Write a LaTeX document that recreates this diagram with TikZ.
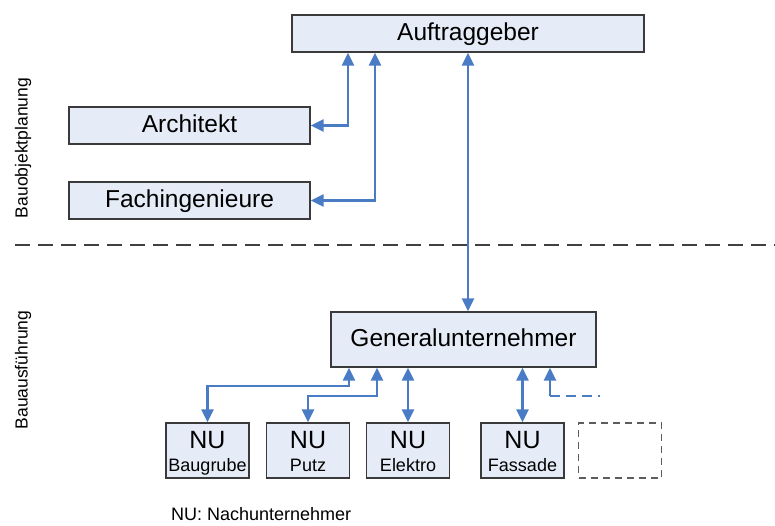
\documentclass[tikz,border=0pt]{standalone}
\usepackage{fontspec}
\setmainfont{Liberation Sans}
\usetikzlibrary{arrows.meta}
\definecolor{boxfill}{HTML}{E6ECF7}
\definecolor{boxline}{HTML}{3A3A3A}
\definecolor{linkblue}{HTML}{4A7CC6}
\definecolor{sepgray}{HTML}{404040}

\begin{document}
\begin{tikzpicture}[x=1pt,y=-1pt,
  box/.style={draw=boxline, fill=boxfill, line width=1.4pt, inner sep=0pt,
    font=\fontsize{24.5}{29}\selectfont, text height=18.5pt, text depth=5.5pt},
  nubox/.style={draw=boxline, fill=boxfill, line width=1.4pt, inner sep=0pt,
    minimum width=83pt, minimum height=55pt},
  nutitle/.style={anchor=base, inner sep=0pt, font=\fontsize{25}{29}\selectfont},
  nusub/.style={anchor=base, inner sep=0pt, font=\fontsize{18}{21}\selectfont},
  biline/.style={draw=linkblue, line width=2.8pt, {Triangle[length=13pt,width=12pt]}-{Triangle[length=13pt,width=12pt]}},
  upline/.style={draw=linkblue, line width=2.8pt, -{Triangle[length=13pt,width=12pt]}},
  phase/.style={rotate=90, inner sep=0pt, font=\fontsize{17.5}{21}\selectfont},
]
\useasboundingbox (0,0) rectangle (775,525);

% planning side
\node[box, minimum width=352pt, minimum height=37pt] (auf) at (468,33.5) {Auftraggeber};
\node[box, minimum width=241pt, minimum height=37pt] (arch) at (189.5,125.5) {Architekt};
\node[box, minimum width=241pt, minimum height=37pt] (fach) at (189.5,200.5) {Fachingenieure};

% execution side
\node[box, minimum width=265pt, minimum height=55pt] (gu) at (463.5,339.5) {Generalunternehmer};

\node[nubox] (nu1) at (207.5,450.5) {};
\node[nubox] (nu2) at (308,450.5) {};
\node[nubox] (nu3) at (408,450.5) {};
\node[nubox] (nu4) at (522.5,450.5) {};
\node[nubox, draw=sepgray!85, fill=none, line width=1.1pt, dash pattern=on 7pt off 5pt] (nu5) at (620,450.5) {};

\foreach \n/\t in {nu1/Baugrube, nu2/Putz, nu3/Elektro, nu4/Fassade} {
  \node[nutitle] (\n-a) at ([yshift=2.5pt]\n.center) {NU};
  \node[nusub] (\n-b) at ([yshift=-20.5pt]\n.center) {\t};
}

% phase labels and separator
\node[phase] (ph1) at (23,148) {Bauobjektplanung};
\node[phase] (ph2) at (23,370) {Bauausführung};
\coordinate (sepL) at (15,245);
\coordinate (sepR) at (775,245);
\draw[sepgray, line width=1.2pt, dash pattern=on 15pt off 8pt] (sepL) -- (sepR);

% connectors
\draw[biline] (arch.east) -| ([xshift=-120pt]auf.south);
\draw[biline] (fach.east) -| ([xshift=-93pt]auf.south);
\draw[biline] (auf.south) -- (auf.south |- gu.north);

\coordinate (row1) at (0,386);
\coordinate (row2) at (0,396);
\draw[biline] ([xshift=-114.5pt]gu.south) |- (row1 -| nu1.north) -- (nu1.north);
\draw[biline] ([xshift=-86.5pt]gu.south) |- (row2 -| nu2.north) -- (nu2.north);
\draw[biline] (nu3.north |- gu.south) -- (nu3.north);
\draw[biline] (nu4.north |- gu.south) -- (nu4.north);

\coordinate (more) at (600,396);
\draw[upline] ([xshift=86.5pt]gu.south |- row2) -- ([xshift=86.5pt]gu.south);
\draw[draw=linkblue, line width=2.8pt, dash pattern=on 10pt off 6pt] ([xshift=86.5pt]gu.south |- row2) -- (more);

% legend
\node[anchor=base west, inner sep=0pt, font=\fontsize{18}{21}\selectfont] (legend) at (171,520) {NU: Nachunternehmer};
\end{tikzpicture}
\end{document}
